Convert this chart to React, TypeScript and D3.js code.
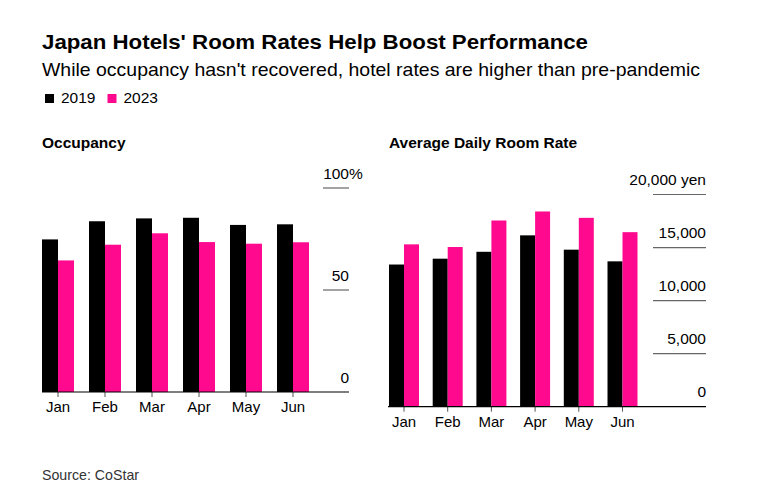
import * as d3 from 'd3';

const months = ['Jan', 'Feb', 'Mar', 'Apr', 'May', 'Jun'];
const years = ['2019', '2023'];
const occupancy2019 = [74.8, 83.7, 85.1, 85.4, 81.9, 82.2];
const occupancy2023 = [64.5, 72.2, 77.8, 73.5, 72.7, 73.4];
const rate2019 = [13400, 13950, 14600, 16150, 14800, 13700];
const rate2023 = [15300, 15050, 17550, 18400, 17800, 16450];
const occTicks = [0, 50, 100];
const rateTicks = [0, 5000, 10000, 15000, 20000];

const PINK = '#ff0a8f';
const FONT = '"Liberation Sans", Arial, sans-serif';

type PanelProps = {
  title: string;
  titleX: number;
  a: number[];
  b: number[];
  xRange: [number, number];
  padding: number;
  yDomain: [number, number];
  yRange: [number, number];
  ticks: number[];
  tickFmt: (v: number) => string;
  gridX: [number, number];
  baseX: number;
};

const Panel = (p: PanelProps) => {
  const x = d3.scaleBand<string>().domain(months).range(p.xRange).paddingInner(p.padding).paddingOuter(0);
  const y = d3.scaleLinear().domain(p.yDomain).range(p.yRange);
  const bw = x.bandwidth() / 2;
  const base = y(0);
  return (
    <g>
      <text x={p.titleX} y={147.7} fontSize={15.5} fontWeight="bold" fill="#000">{p.title}</text>
      {p.ticks.filter((t) => t !== 0).map((t) => (
        <line key={t} x1={p.gridX[0]} x2={p.gridX[1]} y1={y(t)} y2={y(t)} stroke="#666" strokeWidth={1.2} />
      ))}
      {p.ticks.map((t) => (
        <text key={'l' + t} x={p.gridX[1]} y={y(t) - 9.5} fontSize={15.5} textAnchor="end" fill="#000">
          {p.tickFmt(t)}
        </text>
      ))}
      {months.map((m, i) => (
        <g key={m}>
          <rect x={x(m)!} y={y(p.a[i])} width={bw} height={base - y(p.a[i])} fill="#000" />
          <rect x={x(m)! + bw} y={y(p.b[i])} width={bw} height={base - y(p.b[i])} fill={PINK} />
          <line x1={x(m)! + bw} x2={x(m)! + bw} y1={base} y2={base + 5} stroke="#555" strokeWidth={1} />
          <text x={x(m)! + bw} y={base + 20} fontSize={15} textAnchor="middle" fill="#000">{m}</text>
        </g>
      ))}
      <line x1={p.baseX} x2={p.gridX[1]} y1={base} y2={base} stroke="#000" strokeWidth={1.2} />
    </g>
  );
};

export default function App() {
  return (
    <svg width={764} height={496} style={{ position: 'absolute', left: 0, top: 0, background: '#fff' }} fontFamily={FONT}>
      <rect width={764} height={496} fill="#fff" />
      <text x={42} y={48.7} fontSize={21} fontWeight="bold" fill="#000" textLength={546} lengthAdjust="spacingAndGlyphs">
        Japan Hotels' Room Rates Help Boost Performance
      </text>
      <text x={42} y={76.3} fontSize={18.5} fill="#000" textLength={658} lengthAdjust="spacingAndGlyphs">
        While occupancy hasn't recovered, hotel rates are higher than pre-pandemic
      </text>
      {years.map((yr, i) => (
        <g key={yr} transform={`translate(${45 + i * 62.5},0)`}>
          <rect x={0} y={94} width={9} height={9} fill={i === 0 ? '#000' : PINK} />
          <text x={16} y={103} fontSize={15.5} fill="#000">{yr}</text>
        </g>
      ))}
      <Panel
        title="Occupancy"
        titleX={42}
        a={occupancy2019}
        b={occupancy2023}
        xRange={[42, 309]}
        padding={15 / 47}
        yDomain={[0, 100]}
        yRange={[392, 188]}
        ticks={occTicks}
        tickFmt={(v) => String(v)}
        gridX={[323, 349]}
        baseX={42}
      />
      {/* % suffix hangs past the gridline */}
      <text x={349} y={178.5} fontSize={15.5} fill="#000">%</text>
      <Panel
        title="Average Daily Room Rate"
        titleX={389}
        a={rate2019}
        b={rate2023}
        xRange={[389, 637.5]}
        padding={13.7 / 43.7}
        yDomain={[0, 20000]}
        yRange={[406.7, 194.5]}
        ticks={rateTicks}
        tickFmt={(v) => (v === 20000 ? d3.format(',')(v) + ' yen' : d3.format(',')(v))}
        gridX={[653, 706]}
        baseX={388}
      />
      <text x={42} y={480} fontSize={14.2} fill="#333">Source: CoStar</text>
    </svg>
  );
}
